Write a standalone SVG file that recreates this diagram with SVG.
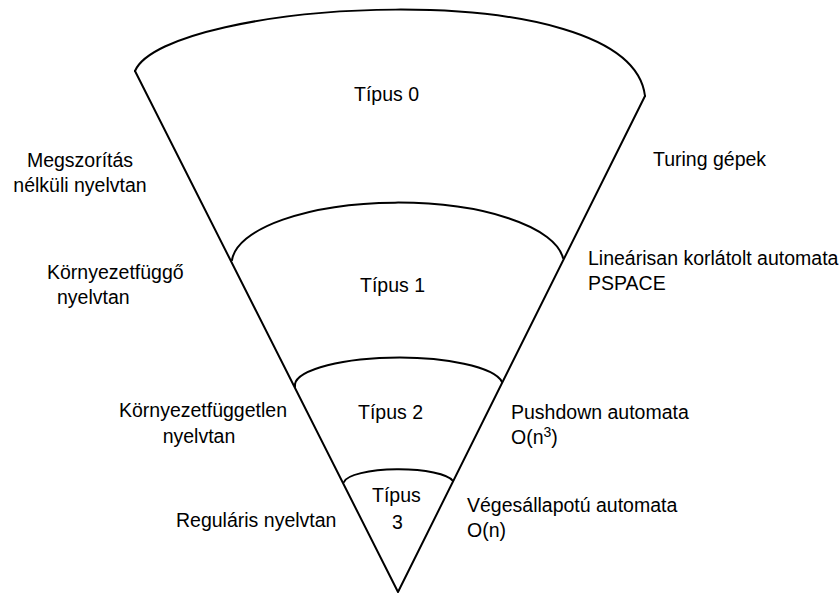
<svg xmlns="http://www.w3.org/2000/svg" width="839" height="594" viewBox="0 0 839 594">
  <style>
    .edge { fill: none; stroke: #000; stroke-width: 2; stroke-linejoin: round; stroke-linecap: round; }
    text { font-family: "Liberation Sans", Arial, sans-serif; font-size: 19.5px; fill: #000; }
    .mid { text-anchor: middle; }
    .sup { font-size: 14px; }
  </style>
  <rect width="839" height="594" fill="#fff"/>

  <!-- cone outline -->
  <g id="cone">
    <path class="edge" d="M135,71 L398,592 L645,96"/>
    <path class="edge" d="M135,71 C165,0 630,-30 645,96"/>
  </g>

  <!-- hierarchy levels -->
  <g id="type0">
    <text x="354" y="101">Típus 0</text>
  </g>
  <g id="type1">
    <path class="edge" d="M232,260 A166,61 0 0 1 563,258"/>
    <text x="360" y="292">Típus 1</text>
  </g>
  <g id="type2">
    <path class="edge" d="M295,387 A104,28 0 0 1 502,382"/>
    <text x="358" y="419">Típus 2</text>
  </g>
  <g id="type3">
    <path class="edge" d="M344,482 A55,14 0 0 1 453,481"/>
    <text x="372" y="502">Típus</text>
    <text x="392" y="529">3</text>
  </g>

  <!-- grammar labels -->
  <g id="grammars">
    <text class="mid" x="80" y="167">Megszorítás</text>
    <text class="mid" x="80" y="192">nélküli nyelvtan</text>
    <text x="47" y="279">Környezetfüggő</text>
    <text x="57" y="304">nyelvtan</text>
    <text class="mid" x="203" y="417">Környezetfüggetlen</text>
    <text class="mid" x="199" y="443">nyelvtan</text>
    <text x="176" y="527">Reguláris nyelvtan</text>
  </g>

  <!-- automata labels -->
  <g id="automata">
    <text x="653" y="166">Turing gépek</text>
    <text x="588" y="265">Lineárisan korlátolt automata</text>
    <text x="588" y="290">PSPACE</text>
    <text x="511" y="419">Pushdown automata</text>
    <text x="511" y="444">O(n<tspan class="sup" dy="-7">3</tspan><tspan dy="7">)</tspan></text>
    <text x="467" y="512">Végesállapotú automata</text>
    <text x="467" y="537">O(n)</text>
  </g>
</svg>
